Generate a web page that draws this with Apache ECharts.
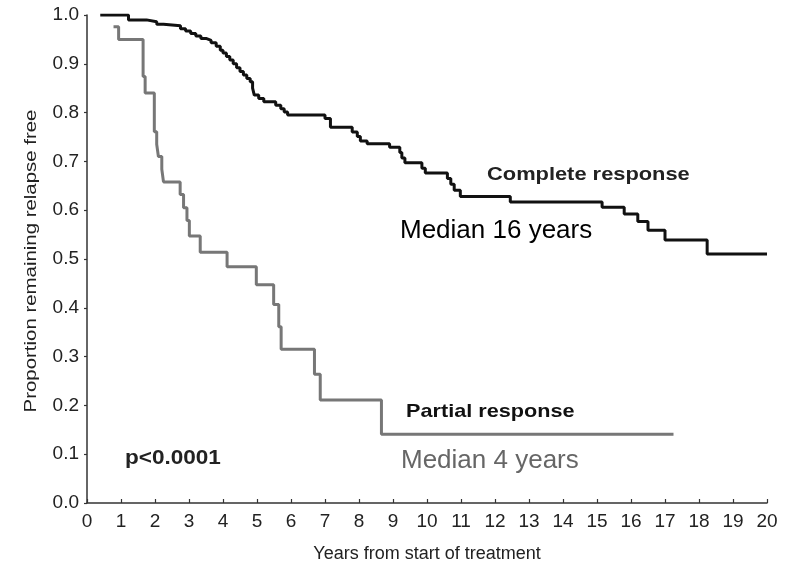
<!DOCTYPE html>
<html>
<head>
<meta charset="utf-8">
<title>Relapse free</title>
<script src="https://cdn.jsdelivr.net/npm/echarts@6/dist/echarts.min.js"></script>
<style>
  html, body { margin: 0; padding: 0; background: #fff; }
  #main { width: 792px; height: 561px; }
</style>
</head>
<body>
<div id="main"></div>
<script>
// x axis ticks (years)
var xTicks = [0, 1, 2, 3, 4, 5, 6, 7, 8, 9, 10, 11, 12, 13, 14, 15, 16, 17, 18, 19, 20];

// complete response: time of each step and value after the step
var crYears = [0.39, 1.22, 1.75, 2.05, 2.25, 2.75, 2.9, 3.05, 3.2, 3.35, 3.5, 3.65, 3.8, 3.92, 4.0, 4.1, 4.2, 4.3, 4.4, 4.5,
  4.6, 4.7, 4.8, 4.87, 4.92, 5.05, 5.2, 5.55, 5.7, 5.8, 5.9, 7.0, 7.16, 7.8, 7.95, 8.04, 8.24, 8.9, 9.2, 9.26,
  9.35, 9.85, 9.95, 10.6, 10.7, 10.8, 10.98, 12.45, 15.15, 15.8, 16.2, 16.5, 17.0, 18.24, 20.0];
var crValues = [1.000, 0.990, 0.986, 0.981, 0.978, 0.972, 0.967, 0.962, 0.957, 0.952, 0.948, 0.943, 0.936, 0.928, 0.922, 0.915, 0.908, 0.900, 0.892, 0.884,
  0.877, 0.870, 0.863, 0.850, 0.836, 0.829, 0.822, 0.815, 0.808, 0.801, 0.795, 0.788, 0.770, 0.760, 0.751, 0.742, 0.736, 0.729, 0.718, 0.707,
  0.697, 0.686, 0.676, 0.665, 0.653, 0.641, 0.628, 0.617, 0.606, 0.592, 0.577, 0.559, 0.539, 0.510, 0.510];

// partial response
var prYears = [0.78, 0.93, 1.65, 1.71, 1.98, 2.05, 2.1, 2.2, 2.25, 2.74, 2.84, 2.94, 3.01, 3.33, 4.12, 4.98, 5.49, 5.64, 5.71, 6.69, 6.86, 8.66, 17.25];
var prValues = [0.976, 0.950, 0.874, 0.840, 0.761, 0.735, 0.710, 0.684, 0.658, 0.632, 0.605, 0.579, 0.547, 0.514, 0.484, 0.447, 0.407, 0.361, 0.315, 0.264, 0.211, 0.141, 0.141];

function pairs(xs, ys) {
  var out = [];
  xs.forEach(function (x, i) { out.push([x, ys[i]]); });
  return out;
}

var chart = echarts.init(document.getElementById('main'), null, { renderer: 'canvas' });

var axisColor = '#333';
var labelFont = 'Liberation Sans, Arial, sans-serif';

chart.setOption({
  animation: false,
  grid: { left: 87, right: 25, top: 15, bottom: 58 },
  xAxis: {
    type: 'value',
    min: xTicks[0],
    max: xTicks[xTicks.length - 1],
    interval: 1,
    axisLine: { lineStyle: { color: axisColor, width: 1.5 } },
    axisTick: { inside: true, length: 4, lineStyle: { color: axisColor, width: 1.2 } },
    axisLabel: { color: '#222', fontSize: 19, fontFamily: labelFont, margin: 9 },
    splitLine: { show: false }
  },
  yAxis: {
    type: 'value',
    min: 0,
    max: 1,
    interval: 0.1,
    axisLine: { show: true, lineStyle: { color: axisColor, width: 1.5 } },
    axisTick: { show: true, length: 3, lineStyle: { color: axisColor, width: 1.2 } },
    axisLabel: {
      color: '#222', fontSize: 19, fontFamily: labelFont, margin: 8,
      formatter: function (v) { return v.toFixed(1); }
    },
    splitLine: { show: false }
  },
  series: [
    {
      name: 'Complete response',
      type: 'line',
      step: 'end',
      showSymbol: false,
      data: pairs(crYears, crValues),
      lineStyle: { color: '#111', width: 3 },
      z: 3
    },
    {
      name: 'Partial response',
      type: 'line',
      step: 'end',
      showSymbol: false,
      data: pairs(prYears, prValues),
      lineStyle: { color: '#777', width: 3 },
      z: 2
    }
  ],
  // text labels, the bold ones are a bit wide in the original so they are stretched
  graphic: [
    {
      type: 'text', x: 487, y: 175, scaleX: 1.15,
      style: { text: 'Complete response', font: 'bold 19px ' + labelFont, fill: '#222', verticalAlign: 'middle' }
    },
    {
      type: 'text', x: 400, y: 231,
      style: { text: 'Median 16 years', font: '26px ' + labelFont, fill: '#000', verticalAlign: 'middle' }
    },
    {
      type: 'text', x: 406, y: 411.5, scaleX: 1.14,
      style: { text: 'Partial response', font: 'bold 19px ' + labelFont, fill: '#111', verticalAlign: 'middle' }
    },
    {
      type: 'text', x: 401, y: 461,
      style: { text: 'Median 4 years', font: '26px ' + labelFont, fill: '#666', verticalAlign: 'middle' }
    },
    {
      type: 'text', x: 125, y: 458, scaleX: 1.1,
      style: { text: 'p<0.0001', font: 'bold 20.5px ' + labelFont, fill: '#222', verticalAlign: 'middle' }
    },
    {
      type: 'text', x: 31, y: 261, rotation: Math.PI / 2, scaleX: 1.2,
      style: { text: 'Proportion remaining relapse free', font: '17px ' + labelFont, fill: '#222', align: 'center', verticalAlign: 'middle' }
    },
    {
      type: 'text', x: 427, y: 554,
      style: { text: 'Years from start of treatment', font: '18px ' + labelFont, fill: '#222', align: 'center', verticalAlign: 'middle' }
    }
  ]
});
</script>
</body>
</html>
